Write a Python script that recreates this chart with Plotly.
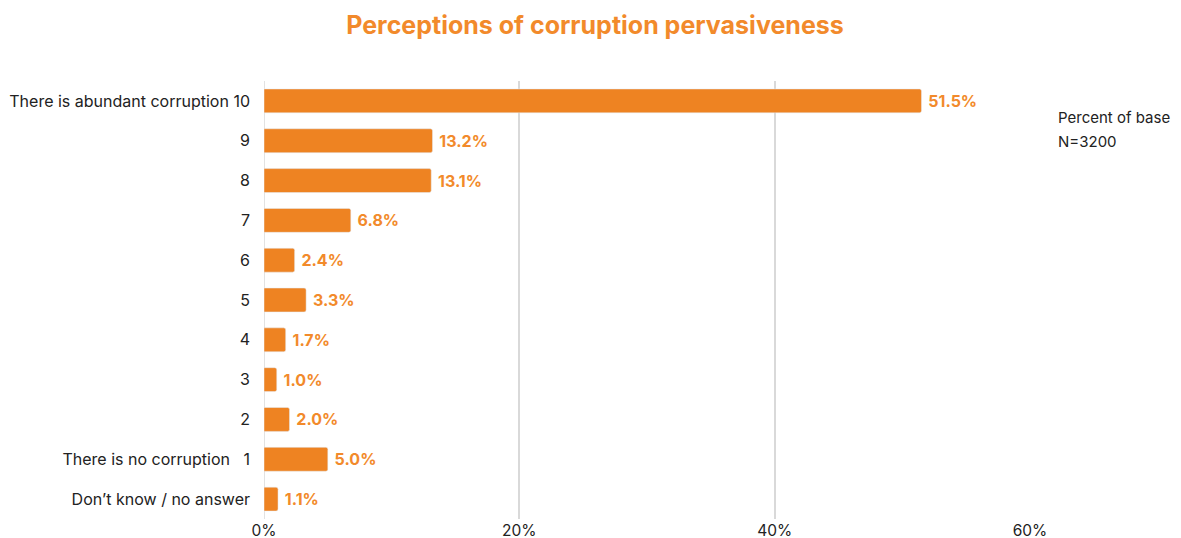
import plotly.graph_objects as go

categories = ["10", "9", "8", "7", "6", "5", "4", "3", "2", "1", "dk"]
tick_labels = ["There is abundant corruption 10", "9", "8", "7", "6", "5", "4", "3", "2",
               "There is no corruption\u00a0\u00a0\u00a01", "Don\u2019t know / no answer"]
values = [51.5, 13.2, 13.1, 6.8, 2.4, 3.3, 1.7, 1.0, 2.0, 5.0, 1.1]
x_ticks = [0, 20, 40, 60]
x_tick_labels = ["0%", "20%", "40%", "60%"]

orange = "#EE8322"
font = "Inter, Roboto, sans-serif"

W, H = 1181, 530
L, R, T, B = 256, 159, 73, 19

fig = go.Figure(go.Bar(
    x=values, y=categories, orientation="h",
    marker=dict(color=orange, cornerradius=2),
    text=[f"\u00a0{v:.1f}%" for v in values],
    textposition="outside",
    textfont=dict(color="#F28A2B", size=16, family=font, weight="bold"),
    cliponaxis=False,
))

fig.update_layout(
    width=W, height=H,
    margin=dict(l=L, r=R, t=T, b=B),
    plot_bgcolor="white", paper_bgcolor="white",
    bargap=0.4,
    showlegend=False,
    title=dict(text="Perceptions of corruption pervasiveness", x=(587) / W, xanchor="center",
               y=1 - 17 / H, yanchor="middle",
               font=dict(family=font, size=25, color="#F28A2B", weight="bold")),
    font=dict(family=font, size=15.5, color="#222"),
)
fig.update_xaxes(range=[0, 60], tickvals=x_ticks, ticktext=x_tick_labels,
                 showgrid=True, gridcolor="#D9D9D9", gridwidth=1.5,
                 zeroline=False, showline=False, ticks="", automargin=False,
                 tickfont=dict(size=15.5, color="#222"))
fig.update_yaxes(categoryorder="array", categoryarray=categories, autorange="reversed",
                 tickvals=categories, ticktext=tick_labels, ticks="", showgrid=False,
                 automargin=False, ticklabelstandoff=13,
                 tickfont=dict(size=16, color="#222"))
fig.add_shape(type="line", xref="x", yref="paper", x0=0, x1=0, y0=0, y1=1,
              line=dict(color="#D9D9D9", width=1.5), layer="below")
for txt, yc in [("Percent of base", 109), ("N=3200", 133)]:
    fig.add_annotation(text=txt, xref="paper", yref="paper",
                       x=1.0, xshift=26, y=1 - (yc - T) / (H - T - B),
                       xanchor="left", yanchor="middle", align="left", showarrow=False,
                       font=dict(family=font, size=15, color="#222"))
fig.write_html("out.html")
